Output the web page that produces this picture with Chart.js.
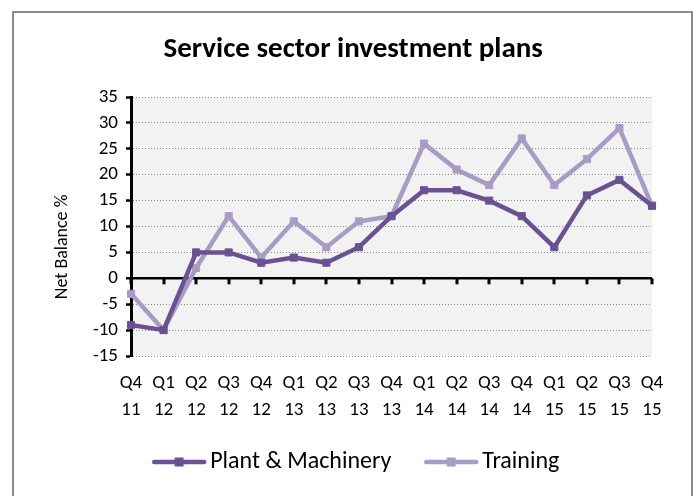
<!DOCTYPE html>
<html>
<head>
<meta charset="utf-8">
<script src="https://cdn.jsdelivr.net/npm/chart.js@4/dist/chart.umd.min.js"></script>
<style>
  html, body { margin: 0; padding: 0; background: #fff; }
  #wrap { position: relative; width: 698px; height: 496px; }
  #frame { position: absolute; left: 12px; top: 11px; width: 681px; height: 500px; border: 2px solid #8c8c8c; box-sizing: border-box; }
  canvas { position: absolute; left: 0; top: 0; }
</style>
</head>
<body>
<div id="wrap">
  <div id="frame"></div>
  <canvas id="c" width="698" height="496"></canvas>
</div>
<script>
const categories = [
  ['Q4','11'], ['Q1','12'], ['Q2','12'], ['Q3','12'], ['Q4','12'],
  ['Q1','13'], ['Q2','13'], ['Q3','13'], ['Q4','13'],
  ['Q1','14'], ['Q2','14'], ['Q3','14'], ['Q4','14'],
  ['Q1','15'], ['Q2','15'], ['Q3','15'], ['Q4','15']
];
const plantMachinery = [-9, -10, 5, 5, 3, 4, 3, 6, 12, 17, 17, 15, 12, 6, 16, 19, 14];
const training = [-3, -10, 2, 12, 4, 11, 6, 11, 12, 26, 21, 18, 27, 18, 23, 29, 14];
const seriesNames = ['Plant & Machinery', 'Training'];
const yMin = -15, yMax = 35, yStep = 5;

const colPlant = '#6a5292';
const colTraining = '#a99cc3';
const FONT = 'Carlito, Calibri, Lato, sans-serif';

function legendImage(color) {
  const cv = document.createElement('canvas');
  cv.width = 56; cv.height = 12;
  const g = cv.getContext('2d');
  g.strokeStyle = color; g.lineWidth = 4.5; g.lineCap = 'round';
  g.beginPath(); g.moveTo(3, 6); g.lineTo(53, 6); g.stroke();
  g.fillStyle = color; g.fillRect(23.5, 1.5, 9, 9);
  return cv;
}
const legendImgs = [legendImage(colPlant), legendImage(colTraining)];

const bgPlugin = {
  id: 'plotBg',
  beforeDraw(chart) {
    const {ctx, chartArea: a} = chart;
    ctx.save();
    ctx.fillStyle = '#f2f2f2';
    ctx.fillRect(a.left, a.top, a.right - a.left, a.bottom - a.top);
    ctx.restore();
  }
};
const zeroTicks = {
  id: 'zeroTicks',
  beforeDatasetsDraw(chart) {
    const {ctx, scales: {x, y}} = chart;
    const y0 = y.getPixelForValue(0);
    ctx.save();
    ctx.strokeStyle = '#000';
    ctx.lineWidth = 3;
    for (let i = 0; i < categories.length; i++) {
      const px = Math.round(x.getPixelForValue(i));
      ctx.beginPath();
      ctx.moveTo(px, y0);
      ctx.lineTo(px, y0 + 6);
      ctx.stroke();
    }
    ctx.restore();
  }
};

new Chart(document.getElementById('c'), {
  type: 'line',
  data: {
    labels: categories,
    datasets: [
      { label: seriesNames[0], data: plantMachinery, borderColor: colPlant, backgroundColor: colPlant,
        borderWidth: 4.5, pointStyle: 'rect', pointRadius: 5, pointBorderWidth: 1, tension: 0, clip: false },
      { label: seriesNames[1], data: training, borderColor: colTraining, backgroundColor: colTraining,
        borderWidth: 4.5, pointStyle: 'rect', pointRadius: 5, pointBorderWidth: 1, tension: 0, clip: false }
    ]
  },
  options: {
    responsive: false,
    animation: false,
    layout: { padding: { left: 67.5, right: 46, top: 0, bottom: 12 } },
    plugins: {
      title: {
        display: true,
        text: 'Service sector investment plans  ',
        color: '#000',
        font: { family: FONT, size: 29, weight: 'bold', lineHeight: 1.2 },
        padding: { top: 32.6, bottom: 29.6 }
      },
      legend: {
        position: 'bottom',
        labels: {
          color: '#000',
          font: { family: FONT, size: 24 },
          usePointStyle: true,
          pointStyleWidth: 38,
          padding: 30,
          generateLabels(chart) {
            const items = Chart.defaults.plugins.legend.labels.generateLabels(chart);
            items.forEach((it, i) => {
              it.pointStyle = legendImgs[i];
              if (i === 0) it.text = it.text + '  ';
            });
            return items;
          }
        }
      },
      tooltip: { enabled: false }
    },
    scales: {
      x: {
        offset: false,
        grid: { display: false, drawTicks: false },
        border: { display: false },
        ticks: { color: '#000', font: { family: FONT, size: 19, lineHeight: 1.42 }, padding: 13.5, maxRotation: 0, autoSkip: false },
        afterFit(s) { s.height = 64; }
      },
      y: {
        min: yMin, max: yMax,
        ticks: { stepSize: yStep, color: '#000', font: { family: FONT, size: 19 }, padding: 8 },
        grid: {
          color: (c) => c.tick && c.tick.value === 0 ? '#000' : '#8a8a8a',
          lineWidth: (c) => c.tick && c.tick.value === 0 ? 2.5 : 1,
          tickColor: '#000', tickWidth: 2.5, tickLength: 5, tickBorderDash: []
        },
        border: { display: true, color: '#000', width: 3,
          dash: (c) => c.tick && c.tick.value === 0 ? [] : [1, 2] },
        title: { display: true, text: 'Net Balance %          ', color: '#000',
          font: { family: FONT, size: 18, lineHeight: 1.2 }, padding: { top: -16.3, bottom: 0 } },
        afterFit(s) { s.width = 63.5; }
      }
    }
  },
  plugins: [bgPlugin, zeroTicks]
});
</script>
</body>
</html>
